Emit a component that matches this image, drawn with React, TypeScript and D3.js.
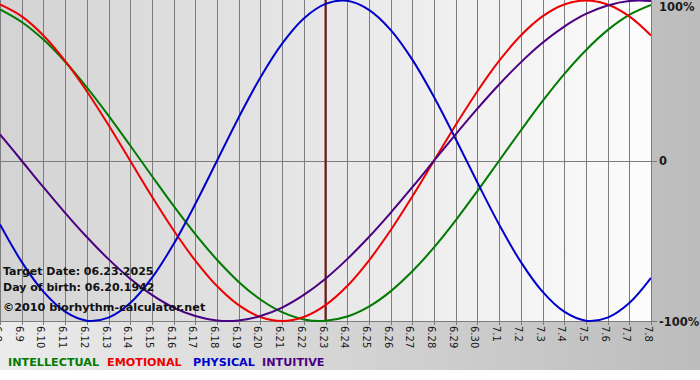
import React from "react";
import * as d3 from "d3";

const dayLabels = [
  "6.8", "6.9", "6.10", "6.11", "6.12", "6.13", "6.14", "6.15", "6.16", "6.17",
  "6.18", "6.19", "6.20", "6.21", "6.22", "6.23", "6.24", "6.25", "6.26", "6.27",
  "6.28", "6.29", "6.30", "7.1", "7.2", "7.3", "7.4", "7.5", "7.6", "7.7", "7.8",
];

const physical = [
  -0.398, -0.631, -0.817, -0.942, -0.998, -0.979, -0.888, -0.731, -0.52, -0.27,
  0, 0.27, 0.52, 0.731, 0.888, 0.979, 0.998, 0.942, 0.817, 0.631,
  0.398, 0.136, -0.136, -0.398, -0.631, -0.817, -0.942, -0.998, -0.979, -0.888, -0.731,
];
const emotional = [
  0.975, 0.901, 0.782, 0.623, 0.434, 0.223, 0, -0.223, -0.434, -0.623,
  -0.782, -0.901, -0.975, -1, -0.975, -0.901, -0.782, -0.623, -0.434, -0.223,
  0, 0.223, 0.434, 0.623, 0.782, 0.901, 0.975, 1, 0.975, 0.901, 0.782,
];
const intellectual = [
  0.945, 0.866, 0.756, 0.618, 0.458, 0.282, 0.095, -0.095, -0.282, -0.458,
  -0.618, -0.756, -0.866, -0.945, -0.99, -0.999, -0.972, -0.91, -0.815, -0.69,
  -0.541, -0.372, -0.189, 0, 0.189, 0.372, 0.541, 0.69, 0.815, 0.91, 0.972,
];
const intuitive = [
  0.165, 0, -0.165, -0.325, -0.476, -0.614, -0.736, -0.837, -0.916, -0.969,
  -0.997, -0.997, -0.969, -0.916, -0.837, -0.736, -0.614, -0.476, -0.325, -0.165,
  0, 0.165, 0.325, 0.476, 0.614, 0.736, 0.837, 0.916, 0.969, 0.997, 0.997,
];

const targetIndex = 15;
const yTicks = [1, 0, -1];
const yTickLabels = ["100%", "0", "-100%"];

const series = [
  { name: "INTELLECTUAL", values: intellectual, color: "#007a00" },
  { name: "EMOTIONAL", values: emotional, color: "#ee0000" },
  { name: "PHYSICAL", values: physical, color: "#0000cc" },
  { name: "INTUITIVE", values: intuitive, color: "#4b0082" },
];

const W = 700;
const H = 370;
const plot = { left: 0, right: 651, top: 0, bottom: 321 };
const FONT = "'DejaVu Sans', Verdana, sans-serif";

export default function App() {
  const x = d3.scaleLinear().domain([0, dayLabels.length - 1]).range([plot.left, plot.right]);
  const y = d3.scaleLinear().domain([-1, 1]).range([plot.bottom, plot.top + 0.5]);
  const line = d3
    .line<number>()
    .x((_, i) => x(i))
    .y((d) => y(d))
    .curve(d3.curveCatmullRom.alpha(0.5));

  const legendX = [8, 107, 193, 262];
  const yLabelY = [11, 165, 326];

  return (
    <svg
      width={W}
      height={H}
      style={{ position: "absolute", left: 0, top: 0, display: "block" }}
      fontFamily={FONT}
    >
      <defs>
        <linearGradient id="outerBg" x1="0" x2="1" y1="0" y2="0">
          <stop offset="0" stopColor="#ececec" />
          <stop offset="1" stopColor="#bcbcbc" />
        </linearGradient>
        <linearGradient id="plotBg" x1="0" x2="1" y1="0" y2="0">
          <stop offset="0" stopColor="#d3d3d3" />
          <stop offset="1" stopColor="#fcfcfc" />
        </linearGradient>
        <clipPath id="plotClip">
          <rect x={plot.left} y={plot.top - 2} width={plot.right - plot.left} height={plot.bottom - plot.top + 4} />
        </clipPath>
      </defs>
      <rect x={0} y={0} width={W} height={H} fill="url(#outerBg)" />
      <rect
        x={plot.left}
        y={plot.top}
        width={plot.right - plot.left}
        height={plot.bottom - plot.top}
        fill="url(#plotBg)"
      />
      {/* vertical grid lines + ticks */}
      {dayLabels.map((lab, i) => (
        <g key={lab}>
          <line
            x1={Math.round(x(i)) + 0.5}
            x2={Math.round(x(i)) + 0.5}
            y1={plot.top}
            y2={plot.bottom + 4}
            stroke="#7c7c7c"
            strokeWidth={1}
          />
          <text
            transform={`translate(${Math.round(x(i)) - 3.5},${plot.bottom + 5}) rotate(90)`}
            fontSize={10}
            fill="#1a1a1a"
            dominantBaseline="middle"
          >
            {lab}
          </text>
        </g>
      ))}
      {/* horizontal lines */}
      {yTicks.map((t, k) => (
        <g key={t}>
          <line
            x1={plot.left}
            x2={plot.right + 6}
            y1={Math.round(y(t)) + 0.5}
            y2={Math.round(y(t)) + 0.5}
            stroke="#7c7c7c"
            strokeWidth={1}
            opacity={t === 1 ? 0 : 1}
          />
          <text
            x={659}
            y={yLabelY[k]}
            fontSize={11.5}
            fontWeight="bold"
            fill="#1a1a1a"
          >
            {yTickLabels[k]}
          </text>
        </g>
      ))}
      {/* target date line */}
      <line
        x1={x(targetIndex)}
        x2={x(targetIndex)}
        y1={plot.top}
        y2={plot.bottom}
        stroke="#7a1515"
        strokeWidth={2}
      />
      {/* curves */}
      <g clipPath="url(#plotClip)">
        {series.map((s) => (
          <path
            key={s.name}
            d={line(s.values) || ""}
            fill="none"
            stroke={s.color}
            strokeWidth={2}
          />
        ))}
      </g>
      {/* info texts */}
      <text x={3} y={275} fontSize={11} fontWeight="bold" fill="#111">
        Target Date: 06.23.2025
      </text>
      <text x={3} y={291} fontSize={11} fontWeight="bold" fill="#111">
        Day of birth: 06.20.1942
      </text>
      <text x={3} y={311} fontSize={11.2} fontWeight="bold" fill="#111">
        ©2010 biorhythm-calculator.net
      </text>
      {/* legend */}
      {series.map((s, k) => (
        <text key={s.name} x={legendX[k]} y={366} fontSize={11.2} fontWeight="bold" fill={s.color}>
          {s.name}
        </text>
      ))}
    </svg>
  );
}
